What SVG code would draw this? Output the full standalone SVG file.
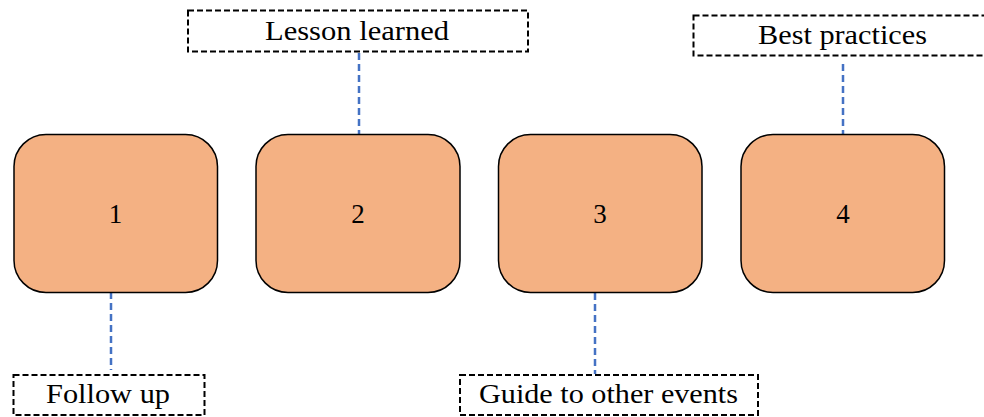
<svg xmlns="http://www.w3.org/2000/svg" width="984" height="417" viewBox="0 0 984 417">
<style>
.node{fill:#F4B183;stroke:#000;stroke-width:1.5}
.num{font-family:'Liberation Serif','Times New Roman',Times,serif;font-size:27px;fill:#000;text-anchor:middle}
.lbl{fill:#fff;stroke:#000;stroke-width:2;stroke-dasharray:6 3}
.lt{font-family:'Liberation Serif','Times New Roman',Times,serif;font-size:28px;fill:#000}
.con{stroke:#4472C4;stroke-width:2.5;stroke-dasharray:7 4;fill:none}
</style>
<rect width="984" height="417" fill="#fff"/>
<g id="connectors">
<line class="con" x1="111" y1="292" x2="111" y2="370"/>
<line class="con" x1="359" y1="53" x2="359" y2="134"/>
<line class="con" x1="595" y1="293" x2="595" y2="374"/>
<line class="con" x1="843" y1="64" x2="843" y2="143"/>
</g>
<g id="node1"><rect class="node" x="14" y="134.5" width="203.5" height="158" rx="32" ry="32"/><text class="num" x="115.5" y="223">1</text></g>
<g id="node2"><rect class="node" x="256" y="134.5" width="204" height="158" rx="32" ry="32"/><text class="num" x="358" y="223">2</text></g>
<g id="node3"><rect class="node" x="498.5" y="134.5" width="203.5" height="158" rx="32" ry="32"/><text class="num" x="600" y="223">3</text></g>
<g id="node4"><rect class="node" x="741" y="134.5" width="203.5" height="158" rx="32" ry="32"/><text class="num" x="843" y="223">4</text></g>
<g id="label-lesson"><rect class="lbl" x="188" y="10.5" width="340" height="41"/><text class="lt" x="265" y="40" textLength="184" lengthAdjust="spacingAndGlyphs">Lesson learned</text></g>
<g id="label-best"><rect class="lbl" x="693.5" y="15.5" width="300" height="40"/><text class="lt" x="758" y="44" textLength="169" lengthAdjust="spacingAndGlyphs">Best practices</text></g>
<g id="label-follow"><rect class="lbl" x="13.5" y="375" width="191" height="40"/><text class="lt" x="46" y="403" textLength="124" lengthAdjust="spacingAndGlyphs">Follow up</text></g>
<g id="label-guide"><rect class="lbl" x="460" y="375" width="298" height="40"/><text class="lt" x="479" y="403" textLength="259" lengthAdjust="spacingAndGlyphs">Guide to other events</text></g>
</svg>
